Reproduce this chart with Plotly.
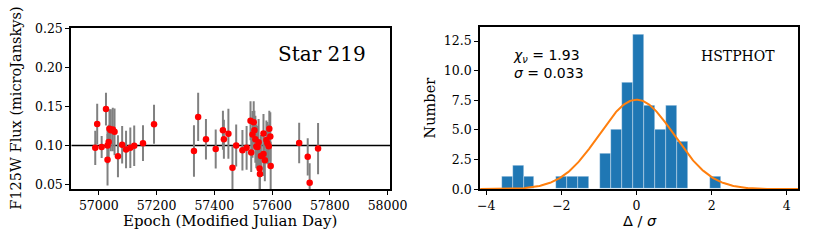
import numpy as np
import plotly.graph_objects as go

# ---- Left panel: light curve data ----
mjd = [56987.9, 56994.6, 57010.1, 57025.0, 57030.4, 57030.4, 57034.4, 57037.1, 57041.8,
       57048.6, 57054.7, 57066.5, 57081.0, 57094.5, 57109.3, 57122.8, 57153.2, 57191.4,
       57329.7, 57344.2, 57371.2, 57405.0, 57430.0, 57433.3, 57448.9, 57463.0, 57475.9,
       57497.5, 57512.0, 57525.5, 57527.9, 57532.3, 57536.6, 57539.0, 57542.3, 57545.7,
       57550.0, 57553.5, 57556.9, 57558.2, 57561.6, 57570.4, 57570.4, 57575.1, 57580.5,
       57583.9, 57588.6, 57590.6, 57594.0, 57595.3,
       57694.0, 57723.6, 57730.3, 57759.4]
flux = [0.097, 0.1276, 0.0981, 0.1467, 0.0818, 0.1000, 0.1045, 0.1215, 0.1195,
        0.1205, 0.1175, 0.0862, 0.1009, 0.0948, 0.0972, 0.0996, 0.1030, 0.1272,
        0.0930, 0.1366, 0.1080, 0.0955, 0.1195, 0.1080, 0.1150, 0.0716, 0.1000,
        0.0940, 0.0970, 0.1316, 0.0910, 0.1142, 0.1297, 0.1195, 0.1080, 0.0988,
        0.0980, 0.1040, 0.0705, 0.0635, 0.0866, 0.0890, 0.1155, 0.0810, 0.1070,
        0.1030, 0.0990, 0.1215, 0.1115, 0.0737,
        0.1033, 0.0854, 0.0522, 0.0960]
flux_err = [0.022, 0.026, 0.014, 0.021, 0.033, 0.024, 0.022, 0.025, 0.027,
            0.028, 0.030, 0.027, 0.024, 0.024, 0.026, 0.026, 0.023, 0.025,
            0.033, 0.031, 0.026, 0.025, 0.025, 0.025, 0.032, 0.028, 0.027,
            0.026, 0.028, 0.025, 0.025, 0.030, 0.027, 0.025, 0.030, 0.028,
            0.027, 0.030, 0.028, 0.027, 0.027, 0.028, 0.025, 0.027, 0.025,
            0.027, 0.028, 0.023, 0.031, 0.031,
            0.026, 0.024, 0.025, 0.033]
mean_flux = 0.10

# ---- Right panel: histogram ----
hist_counts = [1, 2, 1, 0, 0, 1, 1, 1, 0, 3, 5, 9, 13, 7, 5, 7, 4, 0, 0, 1]
hist_min, hist_max = -3.585, 2.245
gauss_peak = 7.55
gauss_sigma = 1.0

x_ticks_left = [57000, 57200, 57400, 57600, 57800, 58000]
y_ticks_left = [0.05, 0.10, 0.15, 0.20, 0.25]
x_ticks_right = [-4, -2, 0, 2, 4]
y_ticks_right = [0.0, 2.5, 5.0, 7.5, 10.0, 12.5]

SERIF = "DejaVu Serif"
SANS = "DejaVu Sans"
W, H = 830, 249

fig = go.Figure()

fig.add_trace(go.Scatter(x=[56905, 58010], y=[mean_flux, mean_flux], mode="lines",
                         line=dict(color="black", width=1.6), xaxis="x", yaxis="y",
                         showlegend=False, hoverinfo="skip"))
fig.add_trace(go.Scatter(x=mjd, y=flux, mode="markers",
                         marker=dict(color="red", size=6.5, line=dict(width=0)),
                         error_y=dict(type="data", array=flux_err, color="grey",
                                      thickness=2.0, width=0),
                         xaxis="x", yaxis="y", showlegend=False))

n_bins = len(hist_counts)
edges = np.linspace(hist_min, hist_max, n_bins + 1)
centers = 0.5 * (edges[:-1] + edges[1:])
bw = edges[1] - edges[0]
fig.add_trace(go.Bar(x=centers, y=hist_counts, width=bw,
                     marker=dict(color="#1f77b4", line=dict(color="rgba(255,255,255,0.35)", width=1)),
                     xaxis="x2", yaxis="y2", showlegend=False))
gx = np.linspace(-4.2, 4.4, 300)
gy = gauss_peak * np.exp(-0.5 * (gx / gauss_sigma) ** 2)
fig.add_trace(go.Scatter(x=gx, y=gy, mode="lines", line=dict(color="#ff7f0e", width=2),
                         xaxis="x2", yaxis="y2", showlegend=False, hoverinfo="skip"))

axis_common = dict(showline=True, mirror=True, linecolor="black", linewidth=2,
                   ticks="outside", ticklen=4, tickwidth=1, tickcolor="black",
                   showgrid=False, zeroline=False,
                   tickfont=dict(family=SERIF, size=12.5, color="black"))

def px(x):
    return x / W

def py(y):
    return (H - y) / H

fig.update_layout(
    width=W, height=H, autosize=False,
    margin=dict(l=0, r=0, t=0, b=0),
    paper_bgcolor="white", plot_bgcolor="white",
    bargap=0,
    xaxis=dict(domain=[px(70), px(397)], range=[56905, 58010], tickvals=x_ticks_left,
               ticktext=[str(v) for v in x_ticks_left], anchor="y", **axis_common),
    yaxis=dict(domain=[py(193), py(22)], range=[0.044, 0.251], tickvals=y_ticks_left,
               ticktext=["%.2f" % v for v in y_ticks_left], anchor="x", **axis_common),
    xaxis2=dict(domain=[px(489), px(815)], range=[-4.16, 4.31], tickvals=x_ticks_right,
                ticktext=[("\u2212%d" % -v) if v < 0 else str(v) for v in x_ticks_right],
                anchor="y2", **axis_common),
    yaxis2=dict(domain=[py(193), py(21)], range=[0, 13.7], tickvals=y_ticks_right,
                ticktext=["%.1f" % v for v in y_ticks_right], anchor="x2", **axis_common),
    annotations=[
        dict(text="Star 219", x=px(327), y=py(50), xref="paper", yref="paper",
             showarrow=False, font=dict(family=SERIF, size=20, color="black"),
             xanchor="center", yanchor="middle"),
        dict(text="Epoch (Modified Julian Day)", x=px(233), y=py(227), xref="paper", yref="paper",
             showarrow=False, font=dict(family=SERIF, size=15, color="black"),
             xanchor="center", yanchor="middle"),
        dict(text="F125W Flux (microJanskys)", x=px(13), y=py(107), xref="paper", yref="paper",
             showarrow=False, textangle=-90, font=dict(family=SERIF, size=14.5, color="black"),
             xanchor="center", yanchor="middle"),
        dict(text="HSTPHOT", x=px(753), y=py(52), xref="paper", yref="paper",
             showarrow=False, font=dict(family=SERIF, size=14, color="black"),
             xanchor="center", yanchor="middle"),
        dict(text="<i>\u03c7</i><sub><i>\u03bd</i></sub> = 1.93<br><i>\u03c3</i> = 0.033",
             x=px(521), y=py(60), xref="paper", yref="paper", align="left",
             showarrow=False, font=dict(family=SANS, size=14, color="black"),
             xanchor="left", yanchor="middle"),
        dict(text="\u0394 / <i>\u03c3</i>", x=px(653), y=py(227), xref="paper", yref="paper",
             showarrow=False, font=dict(family=SANS, size=14.5, color="black"),
             xanchor="center", yanchor="middle"),
        dict(text="Number", x=px(438), y=py(107), xref="paper", yref="paper",
             showarrow=False, textangle=-90, font=dict(family=SERIF, size=14.5, color="black"),
             xanchor="center", yanchor="middle"),
    ],
)

fig.write_html("out.html",
               config={"responsive": False, "displayModeBar": False},
               post_script="document.body.style.margin='0';document.body.style.overflow='hidden';")
